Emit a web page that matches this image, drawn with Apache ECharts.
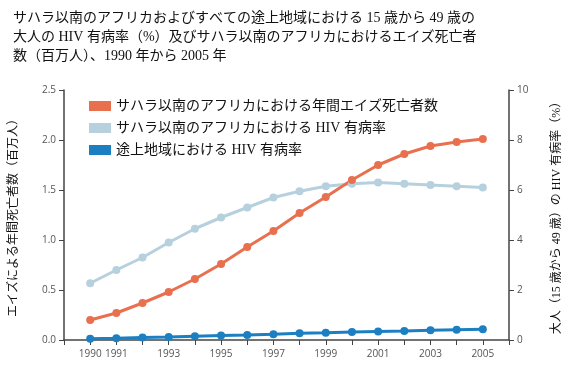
<!DOCTYPE html>
<html><head><meta charset="utf-8">
<script src="https://cdn.jsdelivr.net/npm/echarts@6/dist/echarts.min.js"></script>
<style>html,body{margin:0;padding:0;background:#fff}#c{width:571px;height:376px}</style>
</head><body><div id="c"></div>
<script>
const years = [1990,1991,1992,1993,1994,1995,1996,1997,1998,1999,2000,2001,2002,2003,2004,2005];
const deathsSSA = [0.20,0.27,0.37,0.48,0.61,0.76,0.93,1.09,1.27,1.43,1.60,1.75,1.86,1.94,1.98,2.01];
const hivSSA = [2.27,2.8,3.3,3.9,4.45,4.9,5.3,5.7,5.95,6.15,6.25,6.3,6.25,6.2,6.15,6.1];
const hivDev = [0.05,0.07,0.1,0.12,0.15,0.18,0.2,0.23,0.27,0.29,0.32,0.34,0.36,0.39,0.41,0.43];
const leftTicks = ['0.0','0.5','1.0','1.5','2.0','2.5'];
const rightTicks = ['0','2','4','6','8','10'];
const names = ['サハラ以南のアフリカにおける年間エイズ死亡者数','サハラ以南のアフリカにおける HIV 有病率','途上地域における HIV 有病率'];
const titleText = 'サハラ以南のアフリカおよびすべての途上地域における 15 歳から 49 歳の\n大人の HIV 有病率（%）及びサハラ以南のアフリカにおけるエイズ死亡者\n数（百万人）、1990 年から 2005 年';

const FONT = '"Liberation Serif", "Noto Sans CJK JP", serif';
const pair = (arr) => years.map((y,i)=>[y,arr[i]]);
const chart = echarts.init(document.getElementById('c'));
const axisLine = {show:true, lineStyle:{color:'#444', width:1.5}};
chart.setOption({
  animation:false,
  title:{text:titleText, left:8, top:4, textStyle:{fontFamily:FONT, fontSize:14, fontWeight:'normal', color:'#111', lineHeight:19}},
  legend:{data:names, left:84, top:94, orient:'vertical', itemWidth:22, itemHeight:10, itemGap:8,
    icon:'rect', textStyle:{fontFamily:FONT, fontSize:14, color:'#111'}},
  grid:{left:57, right:57, top:90, bottom:36},
  xAxis:{type:'value', min:1989, max:2006, interval:1,
    axisLine:axisLine, splitLine:{show:false},
    axisTick:{show:true, length:5, lineStyle:{color:'#444'}},
    axisLabel:{fontFamily:'"Open Sans", sans-serif', fontSize:10, color:'#555', margin:9,
      formatter:v => (v===1990 || (v%2===1 && v>1990 && v<2006)) ? String(v) : ''}},
  yAxis:[
    {type:'value', min:0, max:2.5, interval:0.5, position:'left',
     name:'エイズによる年間死亡者数（百万人）', nameLocation:'middle', nameGap:44, nameRotate:90,
     nameTextStyle:{fontFamily:FONT, fontSize:12, color:'#111'},
     axisLine:axisLine, splitLine:{show:false},
     axisTick:{show:true, length:5, lineStyle:{color:'#444'}},
     axisLabel:{fontFamily:'"Open Sans", sans-serif', fontSize:10, color:'#555', formatter:v=>leftTicks[Math.round(v*2)]}},
    {type:'value', min:0, max:10, interval:2, position:'right',
     name:'大人（15 歳から 49 歳）の HIV 有病率（%）', nameLocation:'middle', nameGap:42, nameRotate:90,
     nameTextStyle:{fontFamily:FONT, fontSize:12, color:'#111'},
     axisLine:axisLine, splitLine:{show:false},
     axisTick:{show:true, length:5, lineStyle:{color:'#444'}},
     axisLabel:{fontFamily:'"Open Sans", sans-serif', fontSize:10, color:'#555', formatter:v=>rightTicks[Math.round(v/2)]}}
  ],
  series:[
    {name:names[1], type:'line', yAxisIndex:1, data:pair(hivSSA), symbol:'circle', symbolSize:8,
     lineStyle:{width:3, color:'#b7d0de'}, itemStyle:{color:'#b7d0de'}},
    {name:names[0], type:'line', yAxisIndex:0, data:pair(deathsSSA), symbol:'circle', symbolSize:8,
     lineStyle:{width:3, color:'#e8704f'}, itemStyle:{color:'#e8704f'}},
    {name:names[2], type:'line', yAxisIndex:1, data:pair(hivDev), symbol:'circle', symbolSize:8,
     lineStyle:{width:3, color:'#1b7fc2'}, itemStyle:{color:'#1b7fc2'}}
  ]
});
</script></body></html>
